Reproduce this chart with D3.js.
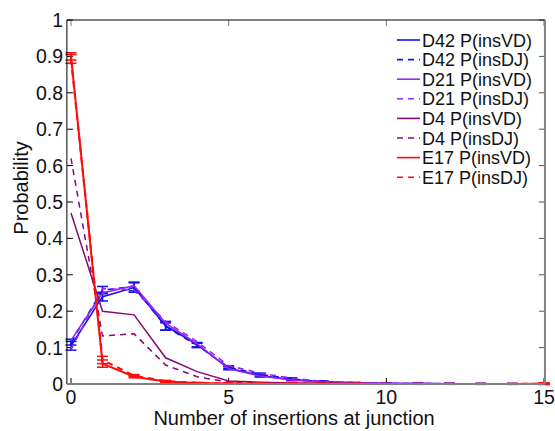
<!DOCTYPE html>
<html><head><meta charset="utf-8">
<script src="https://cdn.jsdelivr.net/npm/d3@7"></script>
<style>body{margin:0;background:#fff}svg{display:block}text{font-family:"Liberation Sans",Arial,sans-serif;fill:#111}</style>
</head><body><svg id="c" width="555" height="431"></svg>
<script>
const xs = d3.range(0, 16);
const xTicks = [0, 5, 10, 15];
const yTicks = [0, 0.1, 0.2, 0.3, 0.4, 0.5, 0.6, 0.7, 0.8, 0.9, 1];
const seriesNames = ["D42 P(insVD)", "D42 P(insDJ)", "D21 P(insVD)", "D21 P(insDJ)", "D4 P(insVD)", "D4 P(insDJ)", "E17 P(insVD)", "E17 P(insDJ)"];
const d42VD = [0.105, 0.240, 0.265, 0.160, 0.108, 0.043, 0.023, 0.012, 0.006, 0.003, 0.0015, 0.001, 0.0007, 0.0004, 0.0003, 0.0002];
const d42DJ = [0.115, 0.258, 0.268, 0.158, 0.106, 0.046, 0.026, 0.014, 0.006, 0.003, 0.002, 0.001, 0.0008, 0.0005, 0.0003, 0.0002];
const d21VD = [0.120, 0.250, 0.270, 0.167, 0.110, 0.042, 0.022, 0.011, 0.005, 0.003, 0.0015, 0.001, 0.0006, 0.0004, 0.0002, 0.0001];
const d21DJ = [0.095, 0.262, 0.258, 0.172, 0.116, 0.050, 0.030, 0.016, 0.007, 0.004, 0.002, 0.0012, 0.0008, 0.0005, 0.0003, 0.0002];
const d4VD = [0.470, 0.200, 0.190, 0.072, 0.034, 0.008, 0.005, 0.003, 0.002, 0.001, 0.0008, 0.0005, 0.0003, 0.0002, 0.0001, 0.0001];
const d4DJ = [0.620, 0.132, 0.138, 0.052, 0.020, 0.005, 0.003, 0.002, 0.001, 0.0008, 0.0005, 0.0003, 0.0002, 0.0001, 0.0001, 0.0001];
const e17VD = [0.900, 0.056, 0.020, 0.007, 0.003, 0.0015, 0.001, 0.0008, 0.0005, 0.0004, 0.0003, 0.0002, 0.0002, 0.0001, 0.0001, 0.001];
const e17DJ = [0.893, 0.066, 0.023, 0.008, 0.003, 0.0015, 0.001, 0.0008, 0.0005, 0.0004, 0.0003, 0.0002, 0.0002, 0.0001, 0.0001, 0.001];
const d42VDerr = [0.012, 0.012, 0.013, 0.012, 0.006, 0.004, 0.004, 0.003, 0.002, 0.001, 0.001, 0.001, 0.001, 0.001, 0.001, 0.001];
const d42DJerr = [0.008, 0.010, 0.012, 0.010, 0.006, 0.004, 0.004, 0.003, 0.002, 0.001, 0.001, 0.001, 0.001, 0.001, 0.001, 0.001];
const e17VDerr = [0.010, 0.010, 0.003, 0.002, 0.001, 0.001, 0.001, 0.001, 0.001, 0.001, 0.001, 0.001, 0.001, 0.001, 0.001, 0.002];
const e17DJerr = [0.012, 0.010, 0.003, 0.002, 0.001, 0.001, 0.001, 0.001, 0.001, 0.001, 0.001, 0.001, 0.001, 0.001, 0.001, 0.002];

const values = [d42VD, d42DJ, d21VD, d21DJ, d4VD, d4DJ, e17VD, e17DJ];
const errors = [d42VDerr, d42DJerr, null, null, null, null, e17VDerr, e17DJerr];
const colors = ["#1010f0", "#1010f0", "#9a26f2", "#9a26f2", "#850c78", "#850c78", "#ff0a0a", "#ff0a0a"];
const dashed = [false, true, false, true, false, true, false, true];
const widths = [1.6, 1.6, 1.6, 1.6, 1.5, 1.5, 2, 2];

const svg = d3.select("#c");
const x = d3.scaleLinear().domain([0, 15]).range([71, 544]);
const y = d3.scaleLinear().domain([0, 1]).range([384, 20]);
const L = x(-0.13), R = x(15.03), T = y(1), B = y(0);

const g = svg.append("g");
yTicks.forEach(t => {
  g.append("line").attr("x1", L).attr("x2", L + 6).attr("y1", y(t)).attr("y2", y(t)).attr("stroke", "#000");
  g.append("line").attr("x1", R).attr("x2", R - 6).attr("y1", y(t)).attr("y2", y(t)).attr("stroke", "#555");
  g.append("text").attr("x", 63).attr("y", y(t) + 7).attr("text-anchor", "end").attr("font-size", 19.5).text(d3.format("")(t));
});
xTicks.forEach(t => {
  g.append("line").attr("x1", x(t)).attr("x2", x(t)).attr("y1", B).attr("y2", B - 6).attr("stroke", "#000");
  g.append("line").attr("x1", x(t)).attr("x2", x(t)).attr("y1", T).attr("y2", T + 6).attr("stroke", "#777");
  g.append("text").attr("x", x(t)).attr("y", 404).attr("text-anchor", "middle").attr("font-size", 19.5).text(t);
});

const line = d3.line().x((d, i) => x(xs[i])).y(d => y(d));
values.forEach((v, k) => {
  svg.append("path").attr("d", line(v)).attr("fill", "none").attr("stroke", colors[k])
    .attr("stroke-width", widths[k]).attr("stroke-dasharray", dashed[k] ? "6,5" : null);
  if (errors[k]) {
    const eg = svg.append("g").attr("stroke", colors[k]).attr("stroke-width", 1.5);
    v.forEach((val, i) => {
      const e = errors[k][i];
      const cx = x(xs[i]), hw = 5.5;
      eg.append("line").attr("x1", cx).attr("x2", cx).attr("y1", y(val - e)).attr("y2", y(val + e));
      eg.append("line").attr("x1", cx - hw).attr("x2", cx + hw).attr("y1", y(val - e)).attr("y2", y(val - e));
      eg.append("line").attr("x1", cx - hw).attr("x2", cx + hw).attr("y1", y(val + e)).attr("y2", y(val + e));
    });
  }
});

svg.append("line").attr("x1", L).attr("x2", R).attr("y1", T).attr("y2", T).attr("stroke", "#000");
svg.append("line").attr("x1", L).attr("x2", L).attr("y1", T).attr("y2", B).attr("stroke", "#000");
svg.append("line").attr("x1", L).attr("x2", R).attr("y1", B).attr("y2", B).attr("stroke", "#808080").attr("stroke-width", 2);
svg.append("line").attr("x1", R).attr("x2", R).attr("y1", T).attr("y2", B).attr("stroke", "#808080").attr("stroke-width", 2);

const lg = svg.append("g");
seriesNames.forEach((n, k) => {
  const yy = 40 + k * 19.6;
  lg.append("line").attr("x1", 397).attr("x2", 420).attr("y1", yy).attr("y2", yy)
    .attr("stroke", colors[k]).attr("stroke-width", 1.6).attr("stroke-dasharray", dashed[k] ? "6,5" : null);
  lg.append("text").attr("x", 422).attr("y", yy + 6.5).attr("font-size", 18).text(n);
});

svg.append("text").attr("x", 294).attr("y", 425).attr("text-anchor", "middle").attr("font-size", 20).text("Number of insertions at junction");
svg.append("text").attr("transform", "translate(28,188) rotate(-90)").attr("text-anchor", "middle").attr("font-size", 20).text("Probability");
</script></body></html>
